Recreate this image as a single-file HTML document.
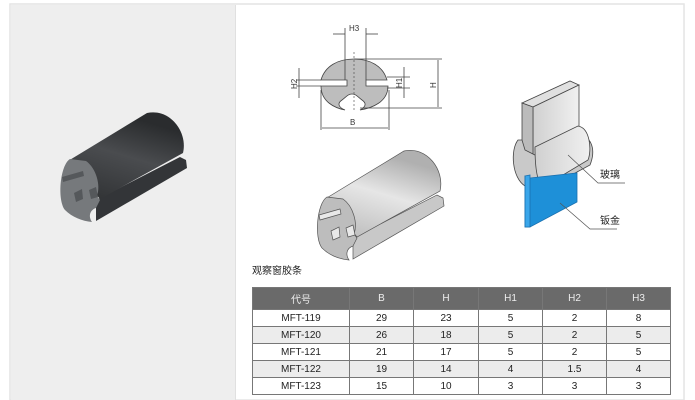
<!DOCTYPE html>
<html><head><meta charset="utf-8"><style>
html,body{margin:0;padding:0;background:#fff;width:695px;height:400px;overflow:hidden;font-family:"Liberation Sans","Noto Sans CJK SC",sans-serif}
#t{position:absolute;left:252px;top:287px;border-collapse:collapse;font-size:10px;color:#222}
#t td,#t th{border:1px solid #777;text-align:center;padding:0;height:16px}
#t th{background:#6a6a6a;color:#eee;font-weight:normal;height:21px}
#t tr:nth-child(odd) td{background:#ececec}
</style></head><body>
<svg width="695" height="400" style="position:absolute;left:0;top:0" font-family="Liberation Sans, Noto Sans CJK SC, sans-serif">
<defs>
<linearGradient id="dk" x1="0" y1="1" x2="0.4" y2="0"><stop offset="0" stop-color="#2e3032"/><stop offset="0.6" stop-color="#4a4c4f"/><stop offset="1" stop-color="#2a2c2e"/></linearGradient>
<linearGradient id="lt" x1="0" y1="1" x2="0.4" y2="0"><stop offset="0" stop-color="#b8b8b8"/><stop offset="0.6" stop-color="#e6e6e6"/><stop offset="1" stop-color="#b0b0b0"/></linearGradient>
<linearGradient id="gl" x1="0" y1="0" x2="1" y2="0"><stop offset="0" stop-color="#d0d0d0"/><stop offset="1" stop-color="#f0f0f0"/></linearGradient>
</defs>
<rect x="10" y="4" width="674" height="396" fill="none" stroke="#e4e4e4" stroke-width="1.5"/>
<rect x="11" y="5" width="224" height="395" fill="#eeeeee"/>
<line x1="235.5" y1="5" x2="235.5" y2="400" stroke="#e0e0e0"/>
<g id="lp">
<path d="M96,200 L180,157 L186,160 L187,168 L96,221 Z" fill="#333538"/>
<path d="M68,161 L147,113 C170,108 188,132 183,153 L100,199 Z" fill="url(#dk)"/>
<path d="M70,159 C60,165 57,200 65,210 C72,217 82,221 92,222 C88,216 90,210 96,208 L100,200 L97,196 C101,185 96,168 86,161 Z" fill="#76797c"/>
<path d="M62,177 L83,171 L84,176 L63,182 Z" fill="#55585b"/>
<path d="M74,193 L82,189 L83,199 L76,202 Z" fill="#55585b"/>
<path d="M89,190 L96,187 L98,197 L91,199 Z" fill="#55585b"/>
</g>
<g transform="translate(257,38)" stroke="#555" stroke-width="0.7">
<path d="M96,200 L180,157 L186,160 L187,168 L96,221 Z" fill="#c8c8c8"/>
<path d="M68,161 L147,113 C170,108 188,132 183,153 L100,199 Z" fill="url(#lt)"/>
<path d="M70,159 C60,165 57,200 65,210 C72,217 82,221 92,222 C88,216 90,210 96,208 L100,200 L97,196 C101,185 96,168 86,161 Z" fill="#bdbdbd"/>
<path d="M62,177 L83,171 L84,176 L63,182 Z" fill="#e8e8e8"/>
<path d="M74,193 L82,189 L83,199 L76,202 Z" fill="#e8e8e8"/>
<path d="M89,190 L96,187 L98,197 L91,199 Z" fill="#e8e8e8"/>
</g>
<g stroke="#444" stroke-width="0.8" fill="none">
<path d="M345,110 C340,108 336,104 342,100 C346,97 348,94 352,94 C356,94 358,97 362,100 C368,104 364,108 360,110 C372,108 388,102 388,86 L366,86 L366,80 L387,80 C383,66 370,59 354,59 C338,59 325,66 321,80 L347,80 L347,86 L321,86 C321,102 335,108 345,110 Z" fill="#bdbdbd"/>
<line x1="354" y1="52" x2="354" y2="112" stroke-dasharray="2,2" stroke-width="0.6"/>
<line x1="345" y1="28" x2="345" y2="80"/><line x1="366" y1="28" x2="366" y2="80"/>
<line x1="333" y1="34" x2="345" y2="34"/><line x1="366" y1="34" x2="378" y2="34"/>
<line x1="354" y1="59" x2="442" y2="59"/><line x1="360" y1="108" x2="442" y2="108"/>
<line x1="438" y1="60" x2="438" y2="107"/>
<line x1="387" y1="77" x2="410" y2="77"/><line x1="387" y1="88" x2="410" y2="88"/>
<line x1="404" y1="67" x2="404" y2="98"/>
<line x1="296" y1="80" x2="321" y2="80"/><line x1="296" y1="86" x2="321" y2="86"/>
<line x1="299" y1="68" x2="299" y2="98"/>
<line x1="321" y1="90" x2="321" y2="130"/><line x1="389" y1="90" x2="389" y2="130"/>
<line x1="322" y1="128" x2="388" y2="128"/>
</g>
<g fill="#333" font-size="8">
<text x="349" y="31">H3</text>
<text x="350" y="125">B</text>
<text transform="translate(436,88) rotate(-90)">H</text>
<text transform="translate(402,88) rotate(-90)">H1</text>
<text transform="translate(297,89) rotate(-90)">H2</text>
</g>
<g stroke="#444" stroke-width="0.8">
<path d="M522,103 L570,81 L579,85 L533,107 Z" fill="#e0e0e0"/>
<path d="M533,107 L579,85 L579,135 L533,160 Z" fill="url(#gl)"/>
<path d="M522,103 L533,107 L533,160 L522,156 Z" fill="#bbb"/>
<path d="M518,140 C510,150 512,178 525,186 L540,192 L590,165 C596,150 592,138 580,134 L535,155 L525,150 L522,140 Z" fill="#c9c9c9"/>
<path d="M535,147 L578,126 C590,128 592,150 588,160 L543,187 C536,182 535,160 535,147 Z" fill="url(#gl)"/>
<path d="M525,176 L530,178 L577,173 L577,202 L530,227 L525,227 Z" fill="#1e90d8" stroke="#1a70b0"/>
<path d="M525,176 L530,175 L530,227 L525,227 Z" fill="#3aa6ea" stroke="#1a70b0"/>
</g>
<g stroke="#555" stroke-width="0.7" fill="none">
<polyline points="568,155 598,183 625,183"/>
<polyline points="560,203 590,229 617,229"/>
</g>
<g fill="#222" font-size="10">
<text x="600" y="178">玻璃</text>
<text x="600" y="224">钣金</text>
<text x="252" y="274" font-size="10">观察窗胶条</text>
</g>
</svg>
<table id="t">
<tr><th style="width:96px">代号</th><th style="width:63px">B</th><th style="width:64px">H</th><th style="width:63px">H1</th><th style="width:63px">H2</th><th style="width:63px">H3</th></tr>
<tr><td>MFT-119</td><td>29</td><td>23</td><td>5</td><td>2</td><td>8</td></tr>
<tr><td>MFT-120</td><td>26</td><td>18</td><td>5</td><td>2</td><td>5</td></tr>
<tr><td>MFT-121</td><td>21</td><td>17</td><td>5</td><td>2</td><td>5</td></tr>
<tr><td>MFT-122</td><td>19</td><td>14</td><td>4</td><td>1.5</td><td>4</td></tr>
<tr><td>MFT-123</td><td>15</td><td>10</td><td>3</td><td>3</td><td>3</td></tr>
</table>
</body></html>
